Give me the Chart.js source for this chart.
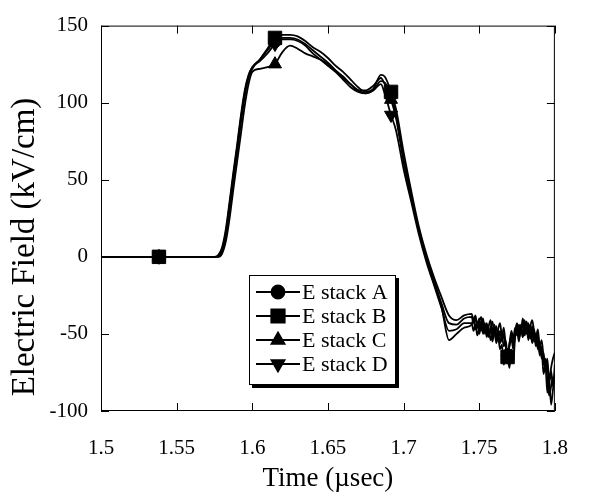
<!DOCTYPE html>
<html>
<head>
<meta charset="utf-8">
<script src="https://cdn.jsdelivr.net/npm/chart.js@4.4.0/dist/chart.umd.min.js"></script>
<style>
  html, body { margin:0; padding:0; background:#fff; }
  #wrap { width:593px; height:500px; position:relative; }
</style>
</head>
<body>
<div id="wrap"><canvas id="graphicFirst"></canvas></div>
<script>
//-----Data
const times = [1.5, 1.5383, 1.575, 1.5775, 1.58, 1.5825, 1.585, 1.5875, 1.59, 1.5925,
  1.595, 1.5975, 1.6, 1.605, 1.61, 1.615, 1.62, 1.625, 1.63, 1.635,
  1.64, 1.645, 1.65, 1.655, 1.66, 1.665, 1.67, 1.675, 1.68, 1.685,
  1.6875, 1.6917, 1.695, 1.7, 1.705, 1.71, 1.715, 1.72, 1.725, 1.73,
  1.735, 1.74,
  1.745, 1.74625, 1.7475, 1.74875, 1.75, 1.75125, 1.7525, 1.75375, 1.755, 1.75625,
  1.7575, 1.75875, 1.76, 1.76125, 1.7625, 1.76375, 1.765, 1.76625, 1.7675, 1.76875,
  1.77, 1.77125, 1.7725, 1.77375, 1.775, 1.77625, 1.7775, 1.77875, 1.78, 1.78125,
  1.7825, 1.78375, 1.785, 1.78625, 1.7875, 1.78875, 1.79, 1.79125, 1.7925, 1.79375,
  1.795, 1.79625, 1.7975, 1.79875, 1.8];

const stackA = [0, 0, 0, 1, 6, 18, 36, 55, 73, 92,
  108, 118, 123, 128, 134, 140, 142, 142, 141, 138,
  134, 130, 126, 121, 117, 112, 108, 106, 108, 114,
  113, 106, 92, 63, 40, 18, 0, -15, -30, -43,
  -44, -40,
  -39, -43, -40, -46, -42, -39, -47, -43, -50, -45,
  -41, -49, -44, -52, -47, -43, -51, -46, -58, -64,
  -57, -48, -53, -46, -51, -44, -49, -40, -47, -42,
  -50, -45, -41, -48, -52, -47, -58, -54, -65, -72,
  -66, -80, -74, -84, -70];

const stackB = [0, 0, 0, 0, 4, 14, 31, 50, 68, 87,
  104, 116, 122, 128, 135, 142, 144, 144, 143, 140,
  136, 133, 129, 124, 120, 115, 110, 107, 109, 118,
  117, 107, 96, 68, 43, 20, 2, -13, -26, -38,
  -41, -38,
  -37, -41, -38, -45, -40, -48, -42, -50, -44, -52,
  -46, -55, -48, -56, -52, -60, -57, -70, -62, -65,
  -72, -60, -68, -52, -48, -55, -44, -52, -41, -50,
  -43, -53, -45, -55, -50, -60, -56, -66, -62, -74,
  -70, -82, -72, -66, -62];

const stackC = [0, 0, 0, 0, 2, 10, 25, 44, 62, 80,
  98, 112, 120, 122, 123, 125, 133, 137, 135, 132,
  130, 128, 125, 121, 116, 112, 108, 108, 111, 116,
  112, 102, 90, 62, 39, 17, -1, -17, -32, -54,
  -50, -46,
  -44, -40, -47, -42, -50, -44, -40, -48, -43, -51,
  -46, -42, -50, -45, -53, -48, -55, -50, -58, -64,
  -56, -51, -57, -48, -43, -50, -45, -52, -46, -42,
  -49, -44, -52, -47, -55, -50, -62, -58, -70, -66,
  -80, -90, -84, -78, -82];

const stackD = [0, 0, 0, 1, 5, 16, 34, 53, 71, 90,
  106, 117, 123, 127, 132, 138, 141, 141, 140, 137,
  132, 128, 124, 120, 115, 110, 107, 106, 108, 112,
  106, 92, 82, 57, 36, 15, -3, -18, -33, -48,
  -47, -43,
  -43, -48, -44, -51, -46, -42, -50, -45, -52, -47,
  -54, -49, -45, -53, -48, -56, -51, -58, -54, -64,
  -58, -53, -60, -50, -46, -53, -48, -44, -51, -46,
  -54, -48, -56, -51, -58, -54, -64, -60, -76, -70,
  -88, -80, -96, -86, -76];

const markerTimes = [1.5383, 1.615, 1.6917, 1.76875];
const xTicks = [1.5, 1.55, 1.6, 1.65, 1.7, 1.75, 1.8];
const xTickLabels = ['1.5', '1.55', '1.6', '1.65', '1.7', '1.75', '1.8'];
const yTicks = [-100, -50, 0, 50, 100, 150];
const yTickLabels = ['-100', '-50', '0', '50', '100', '150'];

const seriesNames = ['E stack A', 'E stack B', 'E stack C', 'E stack D'];
const seriesValues = [stackA, stackB, stackC, stackD];
const seriesStyle = [
  { pointStyle:'circle', radius:6.5, rotation:0, order:1 },
  { pointStyle:'rect', radius:9.5, rotation:0, order:-1 },
  { pointStyle:'triangle', radius:7.5, rotation:0, order:2 },
  { pointStyle:'triangle', radius:7.5, rotation:180, order:3 },
];

const fontFam = '"Liberation Serif", "Times New Roman", serif';

//-----Build datasets
let datasets = seriesNames.map((name, k) => {
  let st = seriesStyle[k];
  return {
    label: name,
    data: times.map((t, i) => ({ x: t, y: seriesValues[k][i] })),
    borderColor: '#000',
    backgroundColor: '#000',
    borderWidth: 1.8,
    cubicInterpolationMode: 'monotone',
    pointStyle: st.pointStyle,
    pointRotation: st.rotation,
    pointRadius: ctx => markerTimes.includes(times[ctx.dataIndex]) ? st.radius : 0,
    pointHoverRadius: 0,
    pointBorderWidth: 1,
    order: st.order,
  };
});

//-----Frame with inward ticks + y title
const frameTicks = {
  id: 'frameTicks',
  afterDraw(chart) {
    const c = chart.ctx;
    const a = chart.chartArea;
    const xs = chart.scales.x, ys = chart.scales.y;
    c.save();
    c.strokeStyle = '#000';
    c.lineWidth = 1;
    c.strokeRect(a.left + 0.5, a.top + 0.5, a.right - a.left - 1, a.bottom - a.top - 1);
    c.beginPath();
    xTicks.forEach(v => {
      let px = Math.round(xs.getPixelForValue(v)) + 0.5;
      c.moveTo(px, a.bottom); c.lineTo(px, a.bottom - 8);
      c.moveTo(px, a.top); c.lineTo(px, a.top + 8);
    });
    yTicks.forEach(v => {
      let py = Math.round(ys.getPixelForValue(v)) + 0.5;
      c.moveTo(a.left, py); c.lineTo(a.left + 8, py);
      c.moveTo(a.right, py); c.lineTo(a.right - 8, py);
    });
    c.stroke();
    //----y axis title
    c.translate(25, 247);
    c.rotate(-Math.PI / 2);
    c.fillStyle = '#000';
    c.font = '33px ' + fontFam;
    c.textAlign = 'center';
    c.textBaseline = 'middle';
    c.fillText('Electric Field (kV/cm)', 0, 0);
    c.restore();
  }
};

//-----Legend box inside the plot
const boxLegend = {
  id: 'boxLegend',
  afterDraw(chart) {
    const c = chart.ctx;
    const left = 249, top = 275, right = 396, bottom = 385;
    c.save();
    c.fillStyle = '#000';
    c.fillRect(left + 3, top + 3, right - left, bottom - top);
    c.fillStyle = '#fff';
    c.fillRect(left, top, right - left, bottom - top);
    c.strokeStyle = '#000';
    c.lineWidth = 1;
    c.strokeRect(left + 0.5, top + 0.5, right - left - 1, bottom - top - 1);
    seriesNames.forEach((name, k) => {
      let st = seriesStyle[k];
      let y = 292 + k * 24;
      c.strokeStyle = '#000';
      c.lineWidth = 1.8;
      c.beginPath();
      c.moveTo(256, y); c.lineTo(300, y);
      c.stroke();
      c.fillStyle = '#000';
      Chart.helpers.drawPoint(c, {
        pointStyle: st.pointStyle, radius: st.radius, rotation: st.rotation, borderWidth: 1
      }, 278, y);
      c.fill();
      c.font = '22px ' + fontFam;
      c.textBaseline = 'middle';
      c.textAlign = 'left';
      c.fillText(name, 302, y + 1);
    });
    c.restore();
  }
};

let chart1;
function drawGraphicFirst(){
  var ctx = document.getElementById('graphicFirst').getContext('2d');
  if (chart1) {
    chart1.destroy();
  }
  chart1 = new Chart(ctx, {
    type: 'line',
    data: { datasets: datasets },
    options: {
      responsive: true,
      maintainAspectRatio: false,
      animation: false,
      layout: { padding: { left: 0, right: 26, top: 20, bottom: 0 } },
      plugins: {
        legend: { display: false },
        tooltip: { enabled: false },
      },
      elements: { point: { borderColor: '#000', backgroundColor: '#000' } },
      scales: {
        x: {
          type: 'linear',
          min: 1.5,
          max: 1.8,
          afterBuildTicks: s => { s.ticks = xTicks.map(v => ({ value: v })); },
          afterFit: s => { s.height = 89; },
          grid: { display: false, drawTicks: false },
          border: { display: false },
          ticks: {
            padding: 25,
            color: '#000',
            font: { family: fontFam, size: 21 },
            maxRotation: 0,
            callback: v => xTickLabels[xTicks.indexOf(v)],
          },
          title: {
            display: true,
            text: 'Time (\u00b5sec)',
            color: '#000',
            font: { family: fontFam, size: 27 },
            padding: { top: 0, bottom: 5 },
          },
        },
        y: {
          min: -100,
          max: 150,
          afterBuildTicks: s => { s.ticks = yTicks.map(v => ({ value: v })); },
          afterFit: s => { s.width = 101; },
          grid: { display: false, drawTicks: false },
          border: { display: false },
          ticks: {
            padding: 13,
            color: '#000',
            font: { family: fontFam, size: 21 },
            callback: v => yTickLabels[yTicks.indexOf(v)],
          },
        },
      },
    },
    plugins: [frameTicks, boxLegend],
  });
}

window.onload = function(){
  drawGraphicFirst();
}
</script>
</body>
</html>
